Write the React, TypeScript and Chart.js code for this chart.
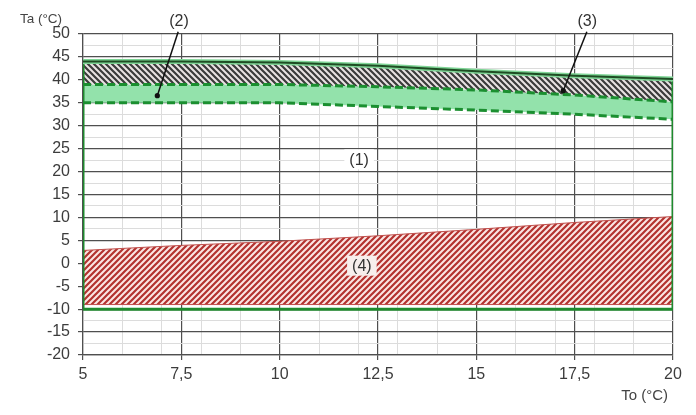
import React, { useEffect, useRef } from 'react';
import { Chart, registerables } from 'chart.js';

Chart.register(...registerables);

// ---- data ----
const xPoints = [5, 7.5, 10, 12.5, 15, 17.5, 20];
const topLine = [44, 44, 43.8, 43.1, 41.9, 40.9, 40.2];
const upperDashed = [39, 39, 39, 38.5, 37.8, 36.7, 35.2];
const lowerDashed = [35, 35, 35, 34.2, 33.4, 32.5, 31.4];
const zone4Top = [2.8, 3.9, 4.8, 6.0, 7.4, 8.9, 10.2];
const zone4Bottom = -9;
const frameBottom = -10;

const xMin = 5;
const xMax = 20;
const yMin = -20;
const yMax = 50;
const xStep = 0.5;
const yStep = 2.5;

const labelTexts = ['(1)', '(2)', '(3)', '(4)'];
const labelX = [12.02, 7.44, 17.82, 12.09];
const labelY = [22.67, 52.9, 52.9, -0.52];
const labelBoxColor = ['#ffffff', null, null, '#f7eeec'];

const leaderFromX = [7.42, 17.81];
const leaderFromY = [50.5, 50.5];
const leaderToX = [6.89, 17.21];
const leaderToY = [36.55, 37.64];

const yTitle = 'Ta (°C)';
const xTitle = 'To (°C)';

const FONT = "'Liberation Sans', Arial, sans-serif";

const pts = (xs: number[], ys: number[]) => xs.map((x, i) => ({ x, y: ys[i] }));
const band = (lower: number[], upper: number[]) => [
  ...pts(xPoints, lower),
  ...pts(xPoints, upper).reverse(),
];

const isMult = (v: number, m: number) => Math.abs(v / m - Math.round(v / m)) < 1e-6;

function makeHatch(bg: string, fg: string, size: number, lw: number, forward: boolean) {
  const c = document.createElement('canvas');
  c.width = size;
  c.height = size;
  const g = c.getContext('2d')!;
  g.fillStyle = bg;
  g.fillRect(0, 0, size, size);
  g.strokeStyle = fg;
  g.lineWidth = lw;
  g.lineCap = 'square';
  g.beginPath();
  if (forward) {
    g.moveTo(0, size); g.lineTo(size, 0);
    g.moveTo(-size / 2, size / 2); g.lineTo(size / 2, -size / 2);
    g.moveTo(size / 2, size * 1.5); g.lineTo(size * 1.5, size / 2);
  } else {
    g.moveTo(0, 0); g.lineTo(size, size);
    g.moveTo(-size / 2, size / 2); g.lineTo(size / 2, size * 1.5);
    g.moveTo(size / 2, -size / 2); g.lineTo(size * 1.5, size / 2);
  }
  g.stroke();
  return g.createPattern(c, 'repeat')!;
}

const annotationPlugin = {
  id: 'annotations',
  afterDatasetsDraw(chart: any) {
    const { ctx, chartArea } = chart;
    const x = chart.scales.x;
    const y = chart.scales.y;
    ctx.save();
    // leader lines
    ctx.strokeStyle = '#111';
    ctx.fillStyle = '#111';
    ctx.lineWidth = 1.5;
    for (let i = 0; i < leaderFromX.length; i++) {
      const x0 = x.getPixelForValue(leaderFromX[i]);
      const y0 = y.getPixelForValue(leaderFromY[i]);
      const x1 = x.getPixelForValue(leaderToX[i]);
      const y1 = y.getPixelForValue(leaderToY[i]);
      ctx.beginPath();
      ctx.moveTo(x0, y0);
      ctx.lineTo(x1, y1);
      ctx.stroke();
      ctx.beginPath();
      ctx.arc(x1, y1, 2.6, 0, Math.PI * 2);
      ctx.fill();
    }
    // labels
    ctx.font = `16px ${FONT}`;
    ctx.textAlign = 'center';
    ctx.textBaseline = 'middle';
    for (let i = 0; i < labelTexts.length; i++) {
      const px = x.getPixelForValue(labelX[i]);
      const py = y.getPixelForValue(labelY[i]);
      const w = ctx.measureText(labelTexts[i]).width;
      const bc = labelBoxColor[i];
      if (bc) {
        ctx.fillStyle = bc;
        ctx.fillRect(px - w / 2 - 5, py - 10, w + 10, 20);
      }
      ctx.fillStyle = '#333';
      ctx.fillText(labelTexts[i], px, py + 1);
    }
    // axis titles
    ctx.fillStyle = '#444';
    ctx.font = `13.5px ${FONT}`;
    ctx.textAlign = 'center';
    ctx.fillText(yTitle, chartArea.left - 42, chartArea.top - 15);
    ctx.font = `15px ${FONT}`;
    ctx.textAlign = 'right';
    ctx.fillText(xTitle, chartArea.right - 5, chartArea.bottom + 41);
    ctx.restore();
  },
};

export default function App() {
  const ref = useRef<HTMLCanvasElement | null>(null);

  useEffect(() => {
    document.body.style.margin = '0';
    const canvas = ref.current!;
    const redHatch = makeHatch('#fbe6e4', '#b3322f', 6, 2.2, true);
    const grayHatch = makeHatch('#e9e3e3', '#3b3b3b', 6, 2.2, false);

    const chart = new Chart(canvas, {
      type: 'line',
      data: {
        datasets: [
          {
            data: pts(xPoints, upperDashed),
            borderColor: '#1b8f30',
            borderWidth: 3,
            borderDash: [8, 4],
            pointRadius: 0,
            fill: false,
          },
          {
            data: pts(xPoints, lowerDashed),
            borderColor: '#1b8f30',
            borderWidth: 3,
            borderDash: [8, 4],
            pointRadius: 0,
            fill: false,
          },
          {
            data: pts(xPoints, topLine),
            borderColor: '#1f4d24',
            borderWidth: 2,
            pointRadius: 0,
            fill: false,
          },
          {
            data: pts(xPoints, topLine),
            borderColor: '#7fd596',
            borderWidth: 5,
            pointRadius: 0,
            fill: false,
          },
          {
            data: [
              { x: xMin, y: topLine[0] },
              { x: xMin, y: frameBottom },
              { x: xMax, y: frameBottom },
              { x: xMax, y: topLine[topLine.length - 1] },
            ],
            borderColor: '#1f8a2e',
            borderWidth: 3,
            pointRadius: 0,
            fill: false,
          },
          {
            data: [
              { x: xMin, y: zone4Bottom },
              ...pts(xPoints, zone4Top),
              { x: xMax, y: zone4Bottom },
              { x: xMin, y: zone4Bottom },
            ],
            borderColor: '#c0504d',
            borderWidth: 1,
            backgroundColor: redHatch,
            pointRadius: 0,
            fill: 'shape',
          },
          {
            data: band(upperDashed, topLine),
            borderWidth: 0,
            borderColor: 'transparent',
            backgroundColor: grayHatch,
            pointRadius: 0,
            fill: 'shape',
          },
          {
            data: band(lowerDashed, upperDashed),
            borderWidth: 0,
            borderColor: 'transparent',
            backgroundColor: '#93e2ab',
            pointRadius: 0,
            fill: 'shape',
          },
        ],
      },
      options: {
        responsive: false,
        animation: false,
        layout: { padding: { left: 0, top: 34, right: 23, bottom: 0 } },
        plugins: {
          legend: { display: false },
          tooltip: { enabled: false },
        },
        elements: { line: { tension: 0 } },
        scales: {
          x: {
            type: 'linear',
            min: xMin,
            max: xMax,
            afterFit: (s: any) => { s.height = 60; },
            ticks: {
              stepSize: xStep,
              autoSkip: false,
              maxRotation: 0,
              padding: 5,
              color: '#3c3c3c',
              font: { family: FONT, size: 16 },
              callback: (v: any) => (isMult(Number(v), 2.5) ? String(v).replace('.', ',') : ''),
            },
            grid: {
              color: (c: any) => {
                const v = c.tick ? c.tick.value : 0;
                if (isMult(v, 2.5)) return '#4f4f4f';
                if (isMult(v, 1)) return '#dcdcdc';
                return 'transparent';
              },
              lineWidth: (c: any) => (c.tick && isMult(c.tick.value, 2.5) ? 1.2 : 1),
              tickLength: 5,
              tickColor: (c: any) => (c.tick && isMult(c.tick.value, 2.5) ? '#4f4f4f' : 'transparent'),
            },
            border: { display: true, color: '#4f4f4f', width: 1.2 },
          },
          y: {
            type: 'linear',
            min: yMin,
            max: yMax,
            afterFit: (s: any) => { s.width = 83; },
            ticks: {
              stepSize: yStep,
              autoSkip: false,
              padding: 8,
              color: '#3c3c3c',
              font: { family: FONT, size: 16 },
              callback: (v: any) => (isMult(Number(v), 5) ? String(v) : ''),
            },
            grid: {
              color: (c: any) => (c.tick && isMult(c.tick.value, 5) ? '#4f4f4f' : '#dcdcdc'),
              lineWidth: (c: any) => (c.tick && isMult(c.tick.value, 5) ? 1.2 : 1),
              tickLength: 5,
              tickColor: (c: any) => (c.tick && isMult(c.tick.value, 5) ? '#4f4f4f' : 'transparent'),
            },
            border: { display: true, color: '#4f4f4f', width: 1.2 },
          },
        },
      },
      plugins: [annotationPlugin],
    } as any);

    return () => chart.destroy();
  }, []);

  return (
    <div style={{ width: 696, height: 415, background: '#fff' }}>
      <canvas ref={ref} width={696} height={415} />
    </div>
  );
}
